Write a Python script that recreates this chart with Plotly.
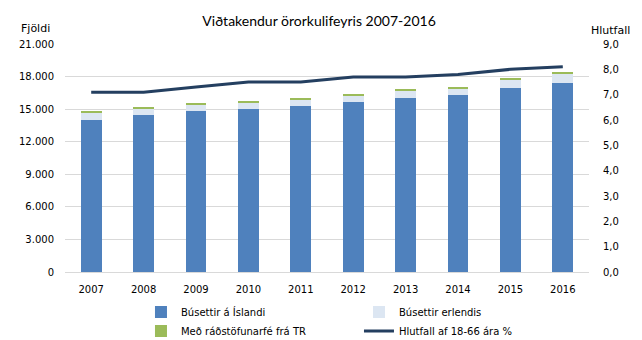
import plotly.graph_objects as go

years = ["2007", "2008", "2009", "2010", "2011", "2012", "2013", "2014", "2015", "2016"]
busettir_islandi = [14000, 14460, 14830, 15010, 15290, 15660, 16030, 16300, 16950, 17410]
busettir_erlendis = [645, 525, 553, 645, 553, 553, 645, 645, 737, 829]
radstofunarfe = [184, 215, 184, 92, 184, 184, 92, 92, 92, 92]
hlutfall = [7.1, 7.1, 7.3, 7.5, 7.5, 7.7, 7.7, 7.8, 8.0, 8.1]

left_ticks = [0, 3000, 6000, 9000, 12000, 15000, 18000, 21000]
right_ticks = [0, 1, 2, 3, 4, 5, 6, 7, 8, 9]

TICK_FONT = dict(family="DejaVu Sans", size=10, color="#000000")

fig = go.Figure()
fig.add_trace(go.Bar(x=years, y=busettir_islandi, name="Búsettir á Íslandi",
                     marker=dict(color="#4F81BD", line=dict(width=0))))
fig.add_trace(go.Bar(x=years, y=busettir_erlendis, name="Búsettir erlendis",
                     marker=dict(color="#DCE6F2", line=dict(width=0))))
fig.add_trace(go.Bar(x=years, y=radstofunarfe, name="Með ráðstöfunarfé frá TR",
                     marker=dict(color="#9BBB59", line=dict(width=0))))
fig.add_trace(go.Scatter(x=years, y=hlutfall, name="Hlutfall af 18-66 ára %",
                         mode="lines", yaxis="y2",
                         line=dict(color="#243F60", width=3)))

fig.update_layout(
    width=642, height=340,
    margin=dict(l=65, r=53, t=44, b=68, autoexpand=False),
    paper_bgcolor="white", plot_bgcolor="white",
    barmode="stack", bargap=0.6,
    separators=",.",
    font=dict(family="DejaVu Sans", size=10, color="#000000"),
    title=dict(text="Viðtakendur örorkulifeyris 2007-2016",
               font=dict(family="Lato", size=14, color="#000000"),
               x=0.497, xanchor="center", y=0.938, yanchor="middle"),
    xaxis=dict(type="category", showgrid=False, showline=False, zeroline=False,
               ticks="", tickfont=TICK_FONT, ticklabelstandoff=10),
    yaxis=dict(range=[0, 21000], tickvals=left_ticks, tickformat=",d",
               showgrid=True, gridcolor="#D9D9D9", gridwidth=1,
               zeroline=True, zerolinecolor="#D9D9D9", zerolinewidth=1,
               showline=False, ticks="", tickfont=TICK_FONT, ticklabelstandoff=10),
    yaxis2=dict(range=[0, 9], tickvals=right_ticks, tickformat=".1f",
                overlaying="y", side="right", showgrid=False, zeroline=False,
                showline=False, ticks="", tickfont=TICK_FONT, ticklabelstandoff=13),
    legend=dict(orientation="h", x=0.145, xanchor="left", y=-0.112, yanchor="top",
                entrywidth=173, entrywidthmode="pixels", traceorder="normal",
                font=dict(family="DejaVu Sans", size=10, color="#000000"),
                itemwidth=30, tracegroupgap=0),
    showlegend=True,
    annotations=[
        dict(text="Fjöldi", xref="paper", yref="paper", x=-0.088, y=1.068,
             xanchor="left", yanchor="middle", showarrow=False,
             font=dict(family="DejaVu Sans", size=11, color="#000000")),
        dict(text="Hlutfall", xref="paper", yref="paper", x=1.0, y=1.061,
             xanchor="left", yanchor="middle", showarrow=False,
             font=dict(family="DejaVu Sans", size=11, color="#000000")),
    ],
)

fig.write_html("out.html")
